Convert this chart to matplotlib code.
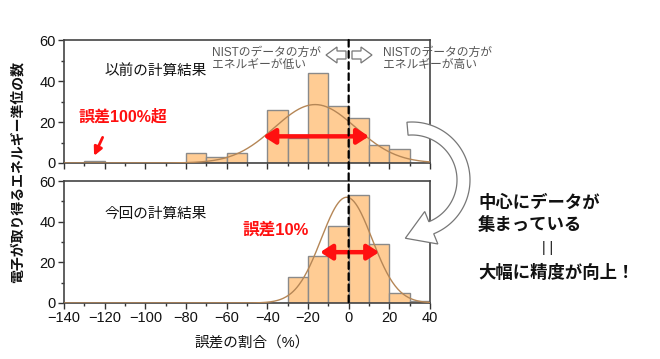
import numpy as np
import matplotlib
matplotlib.use('Agg')
import matplotlib.pyplot as plt
from matplotlib.patches import Polygon, ConnectionPatch

plt.rcParams['font.family'] = ['Liberation Sans', 'Noto Sans CJK JP']

# histogram bins (left edges) and counts
bin_left = np.arange(-140, 40, 10)
before_counts = [0, 1, 0, 0, 0, 0, 5, 3, 5, 0, 26, 12, 44, 28, 22, 9, 7, 0]
after_counts = [0, 0, 0, 0, 0, 0, 0, 0, 0, 0, 0, 13, 23, 38, 53, 29, 5, 1]

# gaussian fit parameters (amplitude, mean, sigma)
before_fit = (28.5, -16.5, 20.0)
after_fit = (52.0, -1.0, 12.5)

# red spread arrows (x0, x1, y)
before_spread = (-42, 10, 13)
after_spread = (-14, 15, 25)

W, H = 660, 359
fig = plt.figure(figsize=(6.6, 3.59), dpi=100)


def px(x, y):
    return (x / W, 1 - y / H)


ax1 = fig.add_axes([64 / W, 1 - 163 / H, 366 / W, 123 / H])
ax2 = fig.add_axes([64 / W, 1 - 303 / H, 366 / W, 122 / H])

xs = np.linspace(-140, 40, 400)
for ax, counts, fit, spread in [(ax1, before_counts, before_fit, before_spread),
                                (ax2, after_counts, after_fit, after_spread)]:
    ax.bar(bin_left, counts, width=10, align='edge', color='#ffcc94',
           edgecolor='#8a8a8a', linewidth=1.0, zorder=2)
    a, m, s = fit
    ax.plot(xs, a * np.exp(-(xs - m) ** 2 / (2 * s ** 2)), color='#b58656',
            lw=1.0, zorder=3)
    ax.annotate('', xy=(spread[0], spread[2]), xytext=(spread[1], spread[2]),
                arrowprops=dict(arrowstyle='<|-|>,head_length=0.7,head_width=0.45',
                                color='#ff1010', lw=3.2, shrinkA=0, shrinkB=0),
                zorder=4)
    ax.set_xlim(-140, 40)
    ax.set_ylim(0, 60)
    ax.set_xticks(np.arange(-140, 41, 20))
    ax.set_xticks(np.arange(-130, 40, 20), minor=True)
    ax.set_yticks([0, 20, 40, 60])
    ax.set_yticks([10, 30, 50], minor=True)
    ax.tick_params(which='both', direction='out', color='#333333', labelsize=10.5,
                   labelcolor='#111111', width=1.0)
    ax.tick_params(which='major', length=4, pad=2)
    ax.tick_params(which='minor', length=2.5)
    for sp in ax.spines.values():
        sp.set_color('#444444')
        sp.set_linewidth(1.2)

ax1.tick_params(labelbottom=False)

# dashed zero line through both panels
con = ConnectionPatch(xyA=(0, 60), coordsA=ax1.transData, xyB=(0, 0),
                      coordsB=ax2.transData, ls=(0, (3, 2)), color='black', lw=1.6,
                      zorder=5)
fig.add_artist(con)

# panel labels
ax1.text(-120, 45, '以前の計算結果', fontsize=10.5, color='#111111', va='center')
ax2.text(-120, 44, '今回の計算結果', fontsize=10.5, color='#111111', va='center')
ax1.text(-133, 22.5, '誤差100%超', fontsize=11.5, color='#ff1010',
         fontweight='bold', va='center')
ax1.annotate('', xy=(-125.2, 3.5), xytext=(-121, 12.5),
             arrowprops=dict(arrowstyle='-|>,head_length=0.5,head_width=0.25',
                             color='#ff1010', lw=2.0, shrinkA=0, shrinkB=0))
ax2.text(-52, 36, '誤差10%', fontsize=12, color='#ff1010', fontweight='bold',
         va='center')

# NIST notes
fig.text(*px(212, 59), 'NISTのデータの方が\nエネルギーが低い', fontsize=8.5,
         color='#555555', va='center', linespacing=1.1)
fig.text(*px(383, 59), 'NISTのデータの方が\nエネルギーが高い', fontsize=8.5,
         color='#555555', va='center', linespacing=1.1)


def block_arrow(tip, back, yc, body_h=4, head_h=8, head_len=11):
    d = 1 if back > tip else -1
    neck = tip + d * head_len
    pts = [(tip, yc), (neck, yc - head_h), (neck, yc - body_h), (back, yc - body_h),
           (back, yc + body_h), (neck, yc + body_h), (neck, yc + head_h)]
    fig.add_artist(Polygon([px(x, y) for x, y in pts], closed=True,
                           transform=fig.transFigure, facecolor='white',
                           edgecolor='#777777', lw=0.9, zorder=6))


block_arrow(326, 346, 55)
block_arrow(372, 352, 55)

# big curved arrow
cx, cy, R, r = 412, 180, 58, 45
th = np.radians(np.linspace(95, -68, 80))
outer = [(cx + R * np.cos(t), cy - R * np.sin(t)) for t in th]
inner = [(cx + r * np.cos(t), cy - r * np.sin(t)) for t in th[::-1]]
te = th[-1]
rm = (R + r) / 2
mid = np.array([cx + rm * np.cos(te), cy - rm * np.sin(te)])
radial = np.array([np.cos(te), -np.sin(te)])
tang = np.array([np.sin(te), np.cos(te)])
head_in = mid - radial * (rm - r + 11)
head_out = mid + radial * (R - rm + 11)
tip = mid + tang * 28
pts = outer + [tuple(head_out), tuple(tip), tuple(head_in)] + inner
fig.add_artist(Polygon([px(x, y) for x, y in pts], closed=True,
                       transform=fig.transFigure, facecolor='white',
                       edgecolor='#777777', lw=0.9, zorder=7))

# conclusion text
fig.text(*px(478, 202), '中心にデータが', fontsize=12.5, fontweight='bold',
         color='#111111', va='center')
fig.text(*px(478, 225), '集まっている', fontsize=12.5, fontweight='bold',
         color='#111111', va='center')
fig.text(*px(548, 248), '| |', fontsize=10, color='#111111', va='center',
         ha='center')
fig.text(*px(478, 272), '大幅に精度が向上！', fontsize=12.5, fontweight='bold',
         color='#111111', va='center')

# axis labels
fig.text(*px(18, 172), '電子が取り得るエネルギー準位の数', rotation=90, fontsize=10,
         fontweight='bold', color='#111111', va='center', ha='center')
fig.text(*px(252, 343), '誤差の割合（%）', fontsize=10.5, color='#111111',
         va='center', ha='center')

fig.savefig('out.png', dpi=100)
